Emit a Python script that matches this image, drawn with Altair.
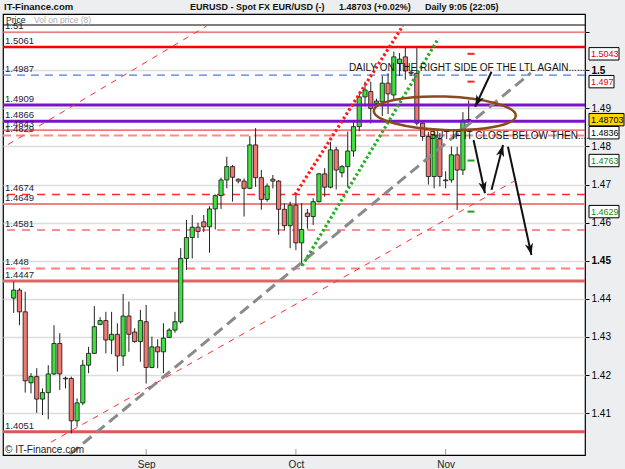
import math
import altair as alt
import pandas as pd

# ---------------- data ----------------
candle_index = list(range(80))
open_px = [1.4402, 1.4423, 1.4366, 1.4180, 1.4196, 1.4137, 1.4154, 1.4203, 1.4283, 1.4192,
           1.4191, 1.4080, 1.4127, 1.4226, 1.4257, 1.4333, 1.4343, 1.4292, 1.4307, 1.4250,
           1.4355, 1.4313, 1.4288, 1.4340, 1.4220, 1.4274, 1.4261, 1.4299, 1.4318, 1.4340,
           1.4506, 1.4561, 1.4588, 1.4602, 1.4589, 1.4636, 1.4671, 1.4712, 1.4747, 1.4714,
           1.4709, 1.4690, 1.4804, 1.4718, 1.4661, 1.4714, 1.4709, 1.4635, 1.4592, 1.4646,
           1.4547, 1.4625, 1.4616, 1.4655, 1.4728, 1.4693, 1.4791, 1.4731, 1.4747, 1.4788,
           1.4852, 1.4930, 1.4944, 1.4913, 1.4917, 1.4966, 1.4935, 1.5018, 1.5035, 1.4995,
           1.4992, 1.4861, 1.4826, 1.4721, 1.4820, 1.4712, 1.4712, 1.4778, 1.4738, 1.4869]
high_px = [1.4445, 1.4428, 1.4419, 1.4205, 1.4218, 1.4165, 1.4226, 1.4331, 1.4310, 1.4196,
           1.4196, 1.4139, 1.4240, 1.4274, 1.4381, 1.4352, 1.4366, 1.4366, 1.4336, 1.4413,
           1.4393, 1.4323, 1.4371, 1.4384, 1.4301, 1.4294, 1.4336, 1.4323, 1.4366, 1.4533,
           1.4607, 1.4620, 1.4600, 1.4620, 1.4643, 1.4674, 1.4718, 1.4773, 1.4751, 1.4716,
           1.4716, 1.4827, 1.4848, 1.4738, 1.4703, 1.4725, 1.4712, 1.4651, 1.4655, 1.4672,
           1.4651, 1.4636, 1.4664, 1.4730, 1.4743, 1.4812, 1.4799, 1.4751, 1.4839, 1.4865,
           1.4944, 1.4970, 1.4970, 1.4925, 1.4985, 1.4992, 1.5049, 1.5045, 1.5061, 1.5000,
           1.5058, 1.4868, 1.4838, 1.4845, 1.4835, 1.4735, 1.4800, 1.4799, 1.4890, 1.4921]
low_px = [1.4363, 1.4331, 1.4154, 1.4152, 1.4101, 1.4095, 1.4084, 1.4200, 1.4161, 1.4165,
          1.4047, 1.4065, 1.4121, 1.4205, 1.4255, 1.4331, 1.4257, 1.4255, 1.4209, 1.4224,
          1.4261, 1.4285, 1.4235, 1.4178, 1.4218, 1.4218, 1.4205, 1.4297, 1.4311, 1.4335,
          1.4476, 1.4506, 1.4560, 1.4575, 1.4521, 1.4582, 1.4636, 1.4690, 1.4655, 1.4703,
          1.4616, 1.4688, 1.4694, 1.4634, 1.4655, 1.4690, 1.4568, 1.4580, 1.4533, 1.4528,
          1.4487, 1.4584, 1.4594, 1.4653, 1.4668, 1.4690, 1.4687, 1.4719, 1.4694, 1.4773,
          1.4840, 1.4905, 1.4860, 1.4905, 1.4880, 1.4885, 1.4922, 1.4985, 1.4975, 1.4985,
          1.4855, 1.4815, 1.4700, 1.4690, 1.4695, 1.4690, 1.4705, 1.4633, 1.4725, 1.4855]
close_px = [1.4423, 1.4366, 1.4185, 1.4196, 1.4137, 1.4154, 1.4203, 1.4283, 1.4203, 1.4190,
            1.4080, 1.4127, 1.4226, 1.4257, 1.4327, 1.4343, 1.4292, 1.4307, 1.4250, 1.4355,
            1.4307, 1.4288, 1.4343, 1.4220, 1.4274, 1.4261, 1.4297, 1.4318, 1.4340, 1.4506,
            1.4561, 1.4588, 1.4577, 1.4589, 1.4636, 1.4671, 1.4712, 1.4747, 1.4719, 1.4709,
            1.4690, 1.4804, 1.4718, 1.4661, 1.4696, 1.4709, 1.4635, 1.4592, 1.4646, 1.4547,
            1.4582, 1.4616, 1.4655, 1.4728, 1.4693, 1.4791, 1.4738, 1.4747, 1.4788, 1.4852,
            1.4930, 1.4948, 1.4900, 1.4919, 1.4966, 1.4938, 1.5035, 1.5029, 1.4998, 1.4992,
            1.4861, 1.4826, 1.4721, 1.4830, 1.4721, 1.4710, 1.4778, 1.4738, 1.4869, 1.48703]

month_index = [23, 49, 75]
month_names = ["Sep", "Oct", "Nov"]
price_ticks = [1.41, 1.42, 1.43, 1.44, 1.45, 1.46, 1.47, 1.48, 1.49, 1.50, 1.51]

level_values = [1.51, 1.5061, 1.4987, 1.4909, 1.4866, 1.4843, 1.4829,
                1.4674, 1.4649, 1.4581, 1.448, 1.4447, 1.4051]
level_colors = ["#ee4444", "#ff0000", "#4a80e0", "#7a14c8", "#7a14c8", "#e84848", "#ff8a8a",
                "#ff2a2a", "#f08080", "#f07070", "#ff8080", "#e06464", "#dd5757"]
level_widths = [1, 2.5, 1.2, 3, 3, 1.2, 2, 1.5, 2, 1.5, 2, 3, 3]
level_dashes = [None, None, [8, 6], None, None, None, [9, 5],
                [8, 7], None, [8, 7], [9, 6], None, None]

# trend lines: (candle index, price) end points
trend_names = ["ltl", "channel_low", "channel_high", "red_dotted", "green_dotted"]
trend_i0 = [9.76, 6.47, -0.99, 48.84, 50.09]
trend_p0 = [1.3992, 1.4024, 1.4805, 1.4673, 1.4487]
trend_i1 = [89.8, 86.9, 33.48, 67.56, 73.77]
trend_p1 = [1.4993, 1.4709, 1.5116, 1.5116, 1.5084]
trend_colors = ["#8a8a8a", "#ff3030", "#ff3030", "#ff1a1a", "#22b022"]
trend_widths = [3, 1, 1, 3.2, 3.2]
trend_dashes = [[11, 6], [6, 6], [6, 6], [2.5, 2.5], [2.5, 2.5]]

# hand-drawn arrows
arrow_i0 = [82.97, 79.85, 82.97, 85.82]
arrow_p0 = [1.4996, 1.4817, 1.4686, 1.4799]
arrow_i1 = [80.12, 81.83, 84.97, 89.90]
arrow_p1 = [1.4904, 1.4677, 1.4804, 1.4515]

ellipse_i = [74.86]
ellipse_p = [1.4887]

note_text = ["DAILY ON THE RIGHT SIDE OF THE LTL AGAIN.......", "BUT IF IT CLOSE BELOW THEN......"]
note_i = [58.2, 72.2]
note_p = [1.5006, 1.4827]

marker_p = [1.5043, 1.4970, 1.4763, 1.4629]
marker_colors = ["#ff2020", "#ff2020", "#1aa31a", "#1aa31a"]
marker_i = [79.4, 79.4, 79.4, 79.4]

box_p = [1.5043, 1.4970, 1.48703, 1.4836, 1.4763, 1.4629]
box_text = ["1.5043", "1.497", "1.48703", "1.4836", "1.4763", "1.4629"]
box_text_color = ["#e00000", "#e00000", "#000000", "#000000", "#118811", "#118811"]
box_fill = ["#ffffff", "#ffffff", "#ffd700", "#ffffff", "#ffffff", "#ffffff"]

# ---------------- layout ----------------
W, H = 582, 441
XDOM = [-0.99, 98.33]
YDOM = [1.39903, 1.51475]
px_i = W / (XDOM[1] - XDOM[0])
px_p = H / (YDOM[1] - YDOM[0])
FONT = "Liberation Sans"

xs = alt.Scale(domain=XDOM, nice=False, zero=False)
ys = alt.Scale(domain=YDOM, nice=False, zero=False)
x_label_expr = " : ".join(f"datum.value == {m} ? '{n}'" for m, n in zip(month_index, month_names)) + " : ''"
xaxis = alt.Axis(values=month_index, labelExpr=x_label_expr, grid=False, domain=False, ticks=False,
                 labelFontSize=10, labelFont=FONT, labelColor="#222", labelPadding=4, title=None)
yaxis = alt.Axis(orient="right", values=price_ticks,
                 labelExpr="datum.value > 1.505 ? '' : format(datum.value, '.2~f')",
                 labelFontWeight={"condition": {"test": "abs(datum.value - 1.45) < 0.001 || abs(datum.value - 1.5) < 0.001",
                                                "value": "bold"}, "value": "normal"},
                 grid=True, gridColor="#dcdcdc", gridWidth=1.5, domain=False,
                 tickColor="#000", tickSize=4, labelFontSize=10, labelFont=FONT, labelColor="#000",
                 labelPadding=2, title=None)


def X(f):
    return alt.X(f, type="quantitative", scale=xs, axis=xaxis)


def Y(f):
    return alt.Y(f, type="quantitative", scale=ys, axis=yaxis)


layers = []

candles = pd.DataFrame({"i": candle_index, "o": open_px, "h": high_px, "l": low_px, "c": close_px})
candles["dir"] = ["up" if c >= o else "down" for o, c in zip(open_px, close_px)]

# horizontal levels (purple ones go over candles)
levels = pd.DataFrame({"p": level_values, "label": [str(v) for v in level_values]})
for v, col, w, d in zip(level_values, level_colors, level_widths, level_dashes):
    if col == "#7a14c8":
        continue
    kw = dict(color=col, strokeWidth=w)
    if d:
        kw["strokeDash"] = d
    layers.append(alt.Chart(pd.DataFrame({"p": [v]})).mark_rule(**kw).encode(y=Y("p")))

# candles
layers.append(alt.Chart(candles).mark_rule(color="#222", strokeWidth=1).encode(x=X("i"), y=Y("l"), y2="h"))
layers.append(alt.Chart(candles).mark_bar(size=4.2, stroke="#111", strokeWidth=0.8).encode(
    x=X("i"), y=Y("o"), y2="c",
    color=alt.Color("dir:N", scale=alt.Scale(domain=["up", "down"], range=["#40e040", "#f27872"]), legend=None)))

for v, col, w in zip(level_values, level_colors, level_widths):
    if col == "#7a14c8":
        layers.append(alt.Chart(pd.DataFrame({"p": [v]})).mark_rule(color=col, strokeWidth=w).encode(y=Y("p")))

# left level labels
layers.append(alt.Chart(levels).mark_text(align="left", baseline="bottom", dy=-1, fontSize=9.5,
                                          font=FONT, color="#1c1c3c").encode(
    x=alt.value(2), y=Y("p"), text="label:N"))

# trend lines
for n, a0, b0, a1, b1, col, w, d in zip(trend_names, trend_i0, trend_p0, trend_i1, trend_p1,
                                        trend_colors, trend_widths, trend_dashes):
    tdf = pd.DataFrame({"i": [a0, a1], "p": [b0, b1]})
    layers.append(alt.Chart(tdf).mark_line(color=col, strokeWidth=w, strokeDash=d, clip=True,
                                           strokeCap="butt").encode(x=X("i"), y=Y("p")))

# ellipse
ell_path = "M -1 0 A 1 0.235 0 1 0 1 0 A 1 0.235 0 1 0 -1 0 Z"
layers.append(alt.Chart(pd.DataFrame({"i": ellipse_i, "p": ellipse_p})).mark_point(
    shape=ell_path, size=142 * 142, filled=False, color="#8b4a1c", strokeWidth=2.5, opacity=1, angle=2
).encode(x=X("i"), y=Y("p")))

# arrows
arr_rows = []
head_rows = []
for k, (a0, b0, a1, b1) in enumerate(zip(arrow_i0, arrow_p0, arrow_i1, arrow_p1)):
    arr_rows += [{"seg": k, "ord": 0, "i": a0, "p": b0}, {"seg": k, "ord": 1, "i": a1, "p": b1}]
    dx = (a1 - a0) * px_i
    dy = -(b1 - b0) * px_p
    ang = math.degrees(math.atan2(dx, -dy)) % 360
    head_rows.append({"i": a1, "p": b1, "ang": ang})
layers.append(alt.Chart(pd.DataFrame(arr_rows)).mark_line(color="#111", strokeWidth=2).encode(
    x=X("i"), y=Y("p"), detail="seg:N", order="ord:Q"))
head_path = "M 0 0 L 0.6 1.7 L 0 1.25 L -0.6 1.7 Z"
layers.append(alt.Chart(pd.DataFrame(head_rows)).mark_point(
    shape=head_path, size=190, filled=True, color="#111", opacity=1, strokeWidth=0.5).encode(
    x=X("i"), y=Y("p"), angle=alt.Angle("ang:Q", scale=None)))

# notes
layers.append(alt.Chart(pd.DataFrame({"i": note_i, "p": note_p, "t": note_text})).mark_text(
    align="left", baseline="middle", fontSize=10, font=FONT, color="#111").encode(
    x=X("i"), y=Y("p"), text="t:N"))

# pivot markers
layers.append(alt.Chart(pd.DataFrame({"i": marker_i, "p": marker_p, "c": marker_colors})).mark_tick(
    orient="horizontal", size=7, thickness=2, opacity=1).encode(
    x=X("i"), y=Y("p"), color=alt.Color("c:N", scale=None)))

# bottom month ticks (inside)
layers.append(alt.Chart(pd.DataFrame({"i": month_index})).mark_rule(color="#999", strokeWidth=1).encode(
    x=X("i"), y=alt.value(H), y2=alt.value(H - 6)))

# right-side price boxes
half_h = 6.2 / px_p
for v, t, tc, fc in zip(box_p, box_text, box_text_color, box_fill):
    bw = 5.0 * sum(ch.isdigit() for ch in t) + 5
    bdf = pd.DataFrame({"p": [v], "p1": [v - half_h], "p2": [v + half_h], "t": [t]})
    layers.append(alt.Chart(bdf).mark_rect(fill=fc, stroke="#000", strokeWidth=1).encode(
        x=alt.value(W + 4), x2=alt.value(W + 4 + bw), y=Y("p1"), y2="p2"))
    layers.append(alt.Chart(bdf).mark_text(align="left", baseline="middle", fontSize=9, font=FONT,
                                           color=tc).encode(x=alt.value(W + 6), y=Y("p"), text="t:N"))

# header / decorations (pixel positions)
def ptext(txt, x, y, size, color="#111", weight="normal", align="left"):
    return alt.Chart(pd.DataFrame({"t": [txt]})).mark_text(
        align=align, baseline="middle", fontSize=size, font=FONT, color=color, fontWeight=weight
    ).encode(x=alt.value(x), y=alt.value(y), text="t:N")

layers.append(alt.Chart(pd.DataFrame({"a": [0]})).mark_rule(color="#000", strokeWidth=1).encode(
    x=alt.value(0), x2=alt.value(W), y=alt.value(11)))
layers.append(ptext("Price", 3, 5.5, 8.5, "#111"))
layers.append(ptext("Vol on price (8)", 31, 5.5, 8.5, "#aaaaaa"))
layers.append(ptext("IT-Finance.com", 1, -7, 9.5, "#111", "bold"))
layers.append(ptext("EURUSD - Spot FX EUR/USD (-)", 187, -7, 9, "#111", "bold"))
layers.append(ptext("1.48703 (+0.02%)", 336, -7, 9, "#111", "bold"))
layers.append(ptext("Daily  9:05 (22:05)", 422, -7, 9, "#111", "bold"))
layers.append(ptext("\u00a9 IT-Finance.com", 2, 436, 10, "#222"))

chart = alt.layer(*layers).properties(
    width=W, height=H,
    padding={"left": 3, "top": 14, "right": 40, "bottom": 14},
    autosize=alt.AutoSizeParams(type="none"),
    background="#eceef0",
).configure_view(stroke="#000", strokeWidth=1.2, fill="#ffffff")

chart.save("out.html", embed_options={"renderer": "svg", "actions": False})
